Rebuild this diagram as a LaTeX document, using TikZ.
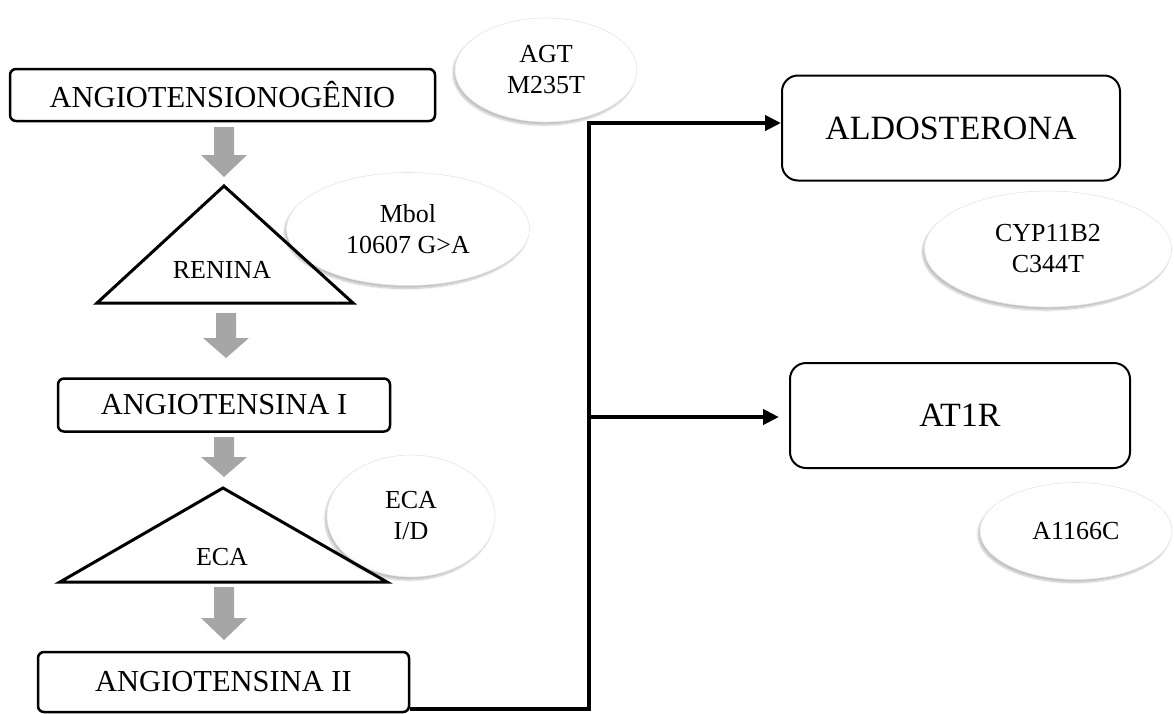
\documentclass[tikz,border=0pt]{standalone}
\usepackage{fontspec}
\setmainfont{Liberation Serif}
\usetikzlibrary{arrows.meta,shapes.geometric,shadows.blur}
\pgfdeclareradialshading{softball}{\pgfpoint{4bp}{6bp}}{color(0bp)=(white); color(26bp)=(white); color(38bp)=(black!4); color(47bp)=(black!12); color(54bp)=(black!24); color(64bp)=(black!32)}
\newcommand{\DownArrow}[4]{\fill[garrowfill] (#1-10,#2) -- (#1+10,#2) -- (#1+10,#3) -- (#1+23,#3) -- (#1,#4) -- (#1-23,#3) -- (#1-10,#3) -- cycle;}
\begin{document}
\begin{tikzpicture}[x=1pt,y=-1pt,
  box/.style={draw,line width=2.5pt,rounded corners=6pt,inner sep=0pt,fill=white,font=\fontsize{30.5}{34}\selectfont},
  bigbox/.style={draw,line width=2pt,rounded corners=16pt,inner sep=0pt,font=\fontsize{34}{38}\selectfont},
  tri/.style={draw,line width=3pt,line join=miter},
  trilabel/.style={font=\fontsize{26}{30}\selectfont,inner sep=0pt},
  garrowfill/.style={fill=black!35},
  gel/.style={ellipse,inner sep=0pt,align=center,font=\fontsize{26}{31}\selectfont,
    shading=softball,draw=black!10,line width=0.6pt,
    blur shadow={shadow xshift=-2pt,shadow yshift=-3pt,shadow blur steps=8,shadow opacity=25}},
  conn/.style={line width=4.5pt},
  tip/.style={-{Triangle[length=16pt,width=15pt]}}
]
\useasboundingbox (0,0) rectangle (1174,713);

% ellipses (behind)
\node[gel,minimum width=243,minimum height=113] (mbol) at (408,229) {Mbol\\10607 G>A};
\node[gel,minimum width=168,minimum height=122] (ecaid) at (411,516) {ECA\\I/D};
\node[gel,minimum width=182,minimum height=104] (agt) at (546,70) {AGT\\M235T};
\node[gel,minimum width=247,minimum height=116] (cyp) at (1048,249) {CYP11B2\\C344T};
\node[gel,minimum width=192,minimum height=97] (a1166) at (1076,531) {A1166C};

% left column
\node[box,minimum width=425,minimum height=52] (angio) at (222.5,95) {ANGIOTENSIONOGÊNIO};
\DownArrow{224}{127}{155}{177}
\draw[tri] (224,186) -- (353,303) -- (97,303) -- cycle;
\node[trilabel] (renina) at (222,270) {RENINA};
\DownArrow{226}{313}{338}{358}
\node[box,minimum width=332,minimum height=53] (ai) at (224,405) {ANGIOTENSINA I};
\DownArrow{224}{437}{457}{477}
\draw[tri] (223,488) -- (387,582) -- (60,582) -- cycle;
\node[trilabel] (eca) at (222,557) {ECA};
\DownArrow{224}{587}{618}{640}
\node[box,minimum width=371,minimum height=60] (aii) at (223.5,682) {ANGIOTENSINA II};

% right column
\node[bigbox,minimum width=338,minimum height=105] (aldo) at (951,128) {ALDOSTERONA};
\node[bigbox,minimum width=340,minimum height=105] (at1r) at (960,415.5) {AT1R};

% connectors
\coordinate (jb) at (589,709);
\coordinate (jt) at (589,123);
\coordinate (jm) at (589,417);
\draw[conn,tip] (aii.east |- jb) -- (jb) -- (jt) -- (aldo.west |- jt);
\draw[conn,tip,shorten >=10pt] (jm) -- (at1r.west |- jm);
\end{tikzpicture}
\end{document}
